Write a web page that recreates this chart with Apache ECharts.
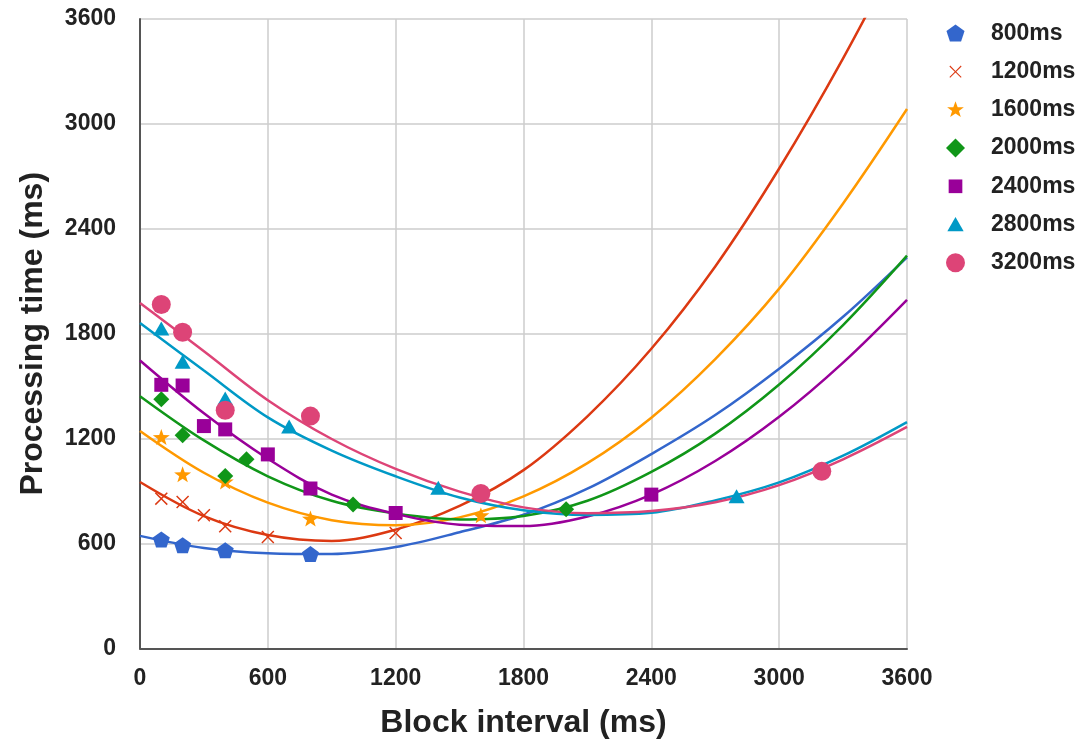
<!DOCTYPE html>
<html>
<head>
<meta charset="utf-8">
<script src="https://cdn.jsdelivr.net/npm/echarts@6/dist/echarts.min.js"></script>
<style>
html,body{margin:0;padding:0;background:#fff;}
#chart{width:1083px;height:746px;}
</style>
</head>
<body>
<div id="chart"></div>
<script>
// ---- data ----
const seriesNames = ['800ms','1200ms','1600ms','2000ms','2400ms','2800ms','3200ms'];
const colors = ['#3366cc','#dc3912','#ff9900','#109618','#990099','#0099c6','#dd4477'];

// measured points [block interval, processing time]
const pts800  = [[100,624],[200,591],[400,562],[800,540]];
const pts1200 = [[100,857],[200,838],[300,762],[400,699],[600,638],[1200,661]];
const pts1600 = [[100,1209],[200,996],[400,955],[800,743],[1600,762]];
const pts2000 = [[100,1425],[200,1219],[400,987],[500,1082],[1000,823],[2000,797]];
const pts2400 = [[100,1508],[200,1504],[300,1272],[400,1253],[600,1110],[800,915],[1200,775],[2400,880]];
const pts2800 = [[100,1830],[200,1640],[400,1430],[700,1270],[1400,920],[2800,870]];
const pts3200 = [[100,1967],[200,1809],[400,1362],[800,1329],[1600,886],[3200,1013]];

// trend curves at these x positions
const trendX = [0,300,600,900,1200,1500,1800,2100,2400,2700,3000,3300,3600];
const trend800  = [644,575,545,540,580,665,765,914,1112,1335,1600,1897,2237];
const trend1200 = [952,757,649,615,680,815,1020,1328,1714,2185,2745,3375,4070];
const trend1600 = [1244,1005,834,734,705,750,870,1060,1320,1655,2058,2545,3085];
const trend2000 = [1443,1190,985,845,772,738,758,845,1010,1229,1510,1850,2247];
const trend2400 = [1647,1345,1085,880,770,708,700,755,880,1072,1325,1635,1994];
const trend2800 = [1862,1590,1322,1132,985,864,791,764,776,847,950,1103,1295];
const trend3200 = [1976,1700,1420,1198,1027,897,807,774,786,836,934,1082,1267];

const axisTicks = [0,600,1200,1800,2400,3000,3600];

// ---- build ----
const points = [pts800,pts1200,pts1600,pts2000,pts2400,pts2800,pts3200];
const trends = [trend800,trend1200,trend1600,trend2000,trend2400,trend2800,trend3200];

const pentagon = 'path://M0.5,0 L0.976,0.345 L0.794,0.905 L0.206,0.905 L0.024,0.345 Z';
const cross = 'path://M0.08,0 L0.5,0.42 L0.92,0 L1,0.08 L0.58,0.5 L1,0.92 L0.92,1 L0.5,0.58 L0.08,1 L0,0.92 L0.42,0.5 L0,0.08 Z';
const star = 'path://M0.5,0 L0.618,0.338 L0.976,0.345 L0.69,0.562 L0.794,0.905 L0.5,0.7 L0.206,0.905 L0.31,0.562 L0.024,0.345 L0.382,0.338 Z';
const symbols = [pentagon, cross, star, 'diamond', 'rect', 'triangle', 'circle'];
const sizes = [[17,16],[13,13],[17,16],[16,16],[14,14],[16,14],[19,19]];

// legend icons (padded so they keep the reference's relative sizes)
const legendIcons = [
  'path://M0,0 M1,1 M0.5,0.02 L0.976,0.365 L0.794,0.925 L0.206,0.925 L0.024,0.365 Z',
  'path://M0,0 M1,1 M0.22,0.18 L0.5,0.46 L0.78,0.18 L0.82,0.22 L0.54,0.5 L0.82,0.78 L0.78,0.82 L0.5,0.54 L0.22,0.82 L0.18,0.78 L0.46,0.5 L0.18,0.22 Z',
  'path://M0,0 M1,1 M0.5,0.04 L0.615,0.36 L0.94,0.36 L0.68,0.555 L0.78,0.88 L0.5,0.69 L0.22,0.88 L0.32,0.555 L0.06,0.36 L0.385,0.36 Z',
  'diamond',
  'path://M0,0 M1,1 M0.14,0.14 L0.86,0.14 L0.86,0.86 L0.14,0.86 Z',
  'path://M0,0 M1,1 M0.5,0.1 L0.93,0.86 L0.07,0.86 Z',
  'circle'
];

const FONT = '"Liberation Sans", Arial, sans-serif';
const series = [];
trends.forEach((t, i) => {
  series.push({
    name: seriesNames[i] + ' trend',
    type: 'line',
    data: trendX.map((x, k) => [x, t[k]]),
    showSymbol: false,
    smooth: 0.35,
    clip: true,
    lineStyle: { color: colors[i], width: 2.5 },
    itemStyle: { color: colors[i] },
    z: 2,
    silent: true
  });
});
points.forEach((p, i) => {
  series.push({
    name: seriesNames[i],
    type: 'scatter',
    data: p,
    symbol: symbols[i],
    symbolSize: sizes[i],
    itemStyle: { color: colors[i], opacity: 1 },
    z: 3
  });
});

const chart = echarts.init(document.getElementById('chart'), null, { renderer: 'canvas' });
chart.setOption({
  animation: false,
  backgroundColor: '#fff',
  textStyle: { fontFamily: FONT },
  grid: { left: 140, right: 176, top: 19, bottom: 97.5, containLabel: false },
  legend: {
    orient: 'vertical',
    left: 941,
    top: 17,
    padding: 5,
    itemWidth: 19,
    itemHeight: 19,
    itemGap: 15.2,
    data: seriesNames.map((n, i) => ({ name: n, icon: legendIcons[i] })),
    textStyle: { fontFamily: FONT, fontSize: 23, fontWeight: 'bold', color: '#222', padding: [0,0,0,21], lineHeight: 19 }
  },
  xAxis: {
    type: 'value',
    min: axisTicks[0],
    max: axisTicks[axisTicks.length - 1],
    interval: 600,
    name: 'Block interval (ms)',
    nameLocation: 'middle',
    nameGap: 59,
    nameTextStyle: { fontFamily: FONT, fontSize: 32, fontWeight: 'bold', color: '#222' },
    axisLine: { show: true, lineStyle: { color: '#555', width: 2 } },
    axisTick: { show: false },
    axisLabel: { margin: 19, fontFamily: FONT, fontSize: 23, fontWeight: 'bold', color: '#222', formatter: v => String(v) },
    splitLine: { show: true, lineStyle: { color: '#cccccc', width: 1.5 } }
  },
  yAxis: {
    type: 'value',
    min: axisTicks[0],
    max: axisTicks[axisTicks.length - 1],
    interval: 600,
    name: 'Processing time (ms)',
    nameLocation: 'middle',
    nameGap: 91,
    nameTextStyle: { fontFamily: FONT, fontSize: 32, fontWeight: 'bold', color: '#222' },
    axisLine: { show: true, lineStyle: { color: '#555', width: 2 } },
    axisTick: { show: false },
    axisLabel: { margin: 24, fontFamily: FONT, fontSize: 23, fontWeight: 'bold', color: '#222', formatter: v => String(v) },
    splitLine: { show: true, lineStyle: { color: '#cccccc', width: 1.5 } }
  },
  series: series
});
</script>
</body>
</html>
